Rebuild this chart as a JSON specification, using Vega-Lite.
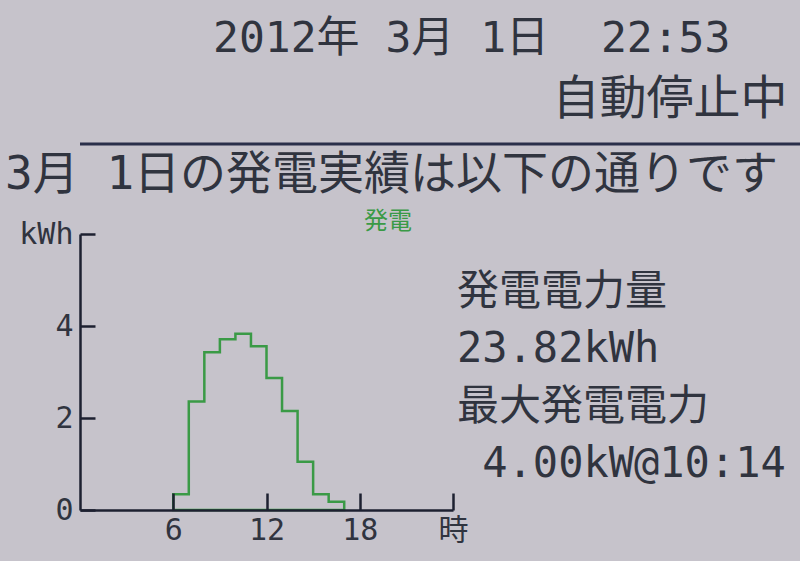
{
  "$schema": "https://vega.github.io/schema/vega-lite/v6.json",
  "background": "#c6c3cb",
  "padding": {"top": 17, "left": 0, "right": 0, "bottom": 16},
  "title": {
    "text": "2012年\u00a03月\u00a01日\u00a0\u00a022:53",
    "subtitle": "\u200b\u00a0\u00a0\u00a0\u00a0\u00a0\u00a0\u00a0\u00a0\u00a0\u00a0\u00a0\u00a0自動停止中",
    "anchor": "start",
    "frame": "group",
    "baseline": "top",
    "font": "DejaVu Sans Mono, Noto Sans CJK JP",
    "fontSize": 43,
    "fontWeight": "normal",
    "color": "#30343f",
    "subtitleFont": "DejaVu Sans Mono, Noto Sans CJK JP",
    "subtitleFontSize": 47,
    "subtitleColor": "#30343f",
    "subtitlePadding": 16,
    "offset": 20,
    "dx": 133
  },
  "columns": 1,
  "align": "none",
  "spacing": 12,
  "resolve": {"legend": {"stroke": "independent"}, "scale": {"stroke": "independent"}},
  "concat": [
    {
      "width": 720,
      "height": 2,
      "data": {"values": [{}]},
      "mark": {"type": "rule", "color": "#2a2f4a", "strokeWidth": 3},
      "encoding": {
        "y": {"datum": 0, "type": "quantitative", "axis": null, "scale": {"domain": [-1, 1]}}
      },
      "title": {
        "text": "3月\u00a01日の発電実績は以下の通りです",
        "orient": "bottom",
        "anchor": "start",
        "frame": "group",
        "font": "DejaVu Sans Mono, Noto Sans CJK JP",
        "fontSize": 46,
        "fontWeight": "normal",
        "color": "#30343f",
        "offset": 7,
        "dx": -75
      }
    },
    {
      "width": 373,
      "height": 276,
      "resolve": {"scale": {"y": "independent"}},
      "layer": [
        {
          "data": {
            "values": [
              {"hour": 6, "kWh": 0.34, "series": "発電"},
              {"hour": 7, "kWh": 2.36, "series": "発電"},
              {"hour": 8, "kWh": 3.43, "series": "発電"},
              {"hour": 9, "kWh": 3.71, "series": "発電"},
              {"hour": 10, "kWh": 3.83, "series": "発電"},
              {"hour": 11, "kWh": 3.56, "series": "発電"},
              {"hour": 12, "kWh": 2.87, "series": "発電"},
              {"hour": 13, "kWh": 2.15, "series": "発電"},
              {"hour": 14, "kWh": 1.05, "series": "発電"},
              {"hour": 15, "kWh": 0.34, "series": "発電"},
              {"hour": 16, "kWh": 0.18, "series": "発電"},
              {"hour": 17, "kWh": 0, "series": "発電"}
            ]
          },
          "mark": {"type": "area", "interpolate": "step-after", "fill": "transparent", "strokeWidth": 2.5},
          "encoding": {
            "x": {
              "field": "hour",
              "type": "quantitative",
              "scale": {"domain": [0, 24], "nice": false},
              "axis": {
                "values": [6, 12, 18, 24],
                "labelExpr": "datum.value == 24 ? '時' : datum.label",
                "title": null,
                "grid": false,
                "tickSize": -17,
                "labelPadding": 22,
                "tickWidth": 2.5,
                "tickColor": "#1d2030",
                "domainColor": "#1d2030",
                "domainWidth": 2.5,
                "labelFont": "DejaVu Sans Mono, Noto Sans CJK JP",
                "labelFontSize": 30,
                "labelColor": "#30343f",
                "labelFlush": false,
                "zindex": 1
              }
            },
            "y": {
              "field": "kWh",
              "type": "quantitative",
              "scale": {"domain": [0, 6], "nice": false},
              "axis": {
                "values": [0, 2, 4, 6],
                "labelExpr": "datum.value == 6 ? 'kWh' : datum.label",
                "title": null,
                "grid": false,
                "tickSize": -15,
                "labelPadding": 22,
                "tickWidth": 2.5,
                "tickColor": "#1d2030",
                "domainColor": "#1d2030",
                "domainWidth": 2.5,
                "labelFont": "DejaVu Sans Mono, Noto Sans CJK JP",
                "labelFontSize": 30,
                "labelColor": "#30343f",
                "labelFlush": false,
                "minExtent": 80,
                "zindex": 1
              }
            },
            "stroke": {
              "field": "series",
              "type": "nominal",
              "scale": {"range": ["#3a9a46"]},
              "legend": {
                "orient": "none",
                "legendX": 260,
                "legendY": -24,
                "title": null,
                "padding": 0,
                "symbolOpacity": 0,
                "symbolSize": 0,
                "symbolStrokeWidth": 0,
                "labelOffset": 0,
                "labelFont": "Noto Sans CJK JP",
                "labelFontSize": 24,
                "labelColor": "#3a9a46"
              }
            }
          }
        },
        {
          "data": {
            "values": [
              {"stat": "発電電力量"},
              {"stat": "23.82kWh"},
              {"stat": "最大発電電力"},
              {"stat": "\u200b\u00a04.00kW@10:14"}
            ]
          },
          "mark": {
            "type": "text",
            "align": "left",
            "baseline": "middle",
            "dx": 4,
            "dy": 6,
            "font": "DejaVu Sans Mono, Noto Sans CJK JP",
            "fontSize": 42,
            "color": "#30343f"
          },
          "encoding": {
            "x": {"datum": 24, "type": "quantitative"},
            "y": {
              "field": "stat",
              "type": "nominal",
              "sort": null,
              "axis": null,
              "scale": {"type": "point", "padding": 0.91}
            },
            "text": {"field": "stat"}
          }
        }
      ]
    }
  ],
  "config": {"view": {"stroke": null}}
}
